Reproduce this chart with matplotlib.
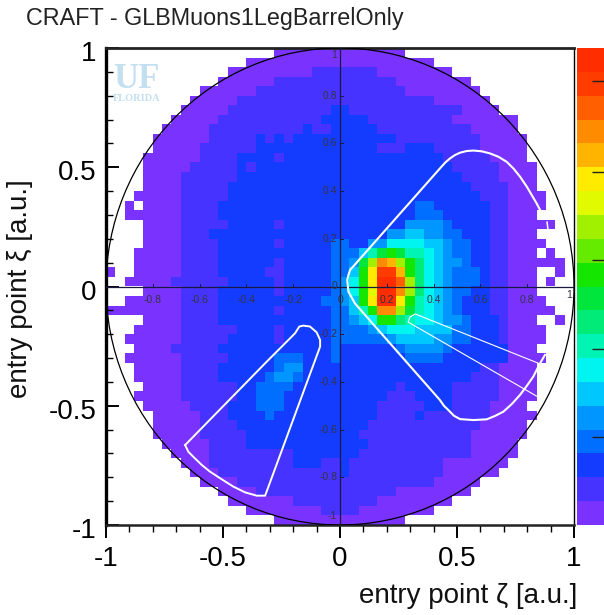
import numpy as np
import matplotlib
matplotlib.use("Agg")
import matplotlib.pyplot as plt
from matplotlib.colors import ListedColormap
from matplotlib.patches import Circle
from matplotlib.transforms import ScaledTranslation

plt.rcParams['font.family'] = ['Liberation Sans', 'DejaVu Sans']

N_BINS = 50
band_colors = ['#7a33ff', '#4633ff', '#143cff', '#006eff', '#0096ff', '#00c8ff', '#00f5f0',
               '#00f5b4', '#00eb78', '#00e63c', '#14e600', '#64eb00', '#a0f000', '#e1fa00',
               '#ffeb00', '#ffb400', '#ff8c00', '#ff5f00', '#ff3c00', '#ff2d00']

# bins of the lowest band per row (first, last); rows run from top to bottom
left0 = [18, 15, 13, 12, 10, 9, 8, 7, 6, 5, 5, 4, 4, 4, 4, 3, 2, 2, 4, 4, 4, 3, 3, 3, 2,
         4, 2, 0, 4, 3, 2, 3, 2, 3, 3, 4, 3, 4, 5, 5, 5, 6, 7, 8, 9, 10, 12, 13, 15, 18]
right0 = [31, 34, 36, 38, 39, 40, 41, 43, 43, 44, 44, 44, 45, 45, 45, 46, 46, 45, 47, 45, 46, 45, 48, 45, 45,
          45, 46, 47, 45, 46, 46, 45, 46, 45, 45, 45, 45, 44, 45, 44, 44, 43, 43, 42, 41, 39, 38, 36, 34, 31]
empty_bins = [(16, 3), (23, 1), (23, 2), (23, 46), (23, 47), (24, 46)]
extra_bins = [(21, 47), (23, 0), (23, 48), (24, 47), (28, 48)]

# second band per row
band1 = {2: (22, 28), 3: (18, 30), 4: (16, 31), 5: (14, 34), 6: (13, 37), 7: (12, 36), 8: (11, 38), 9: (11, 39),
         10: (10, 39), 11: (10, 40), 12: (9, 41), 13: (8, 41), 14: (8, 42), 15: (8, 42), 16: (8, 42), 17: (8, 42),
         18: (8, 42), 19: (8, 42), 20: (8, 42), 21: (8, 42), 22: (8, 42), 23: (8, 42), 24: (7, 42), 25: (8, 42),
         26: (8, 42), 27: (8, 42), 28: (8, 42), 29: (8, 42), 30: (8, 42), 31: (7, 42), 32: (8, 42), 33: (8, 41),
         34: (8, 41), 35: (8, 41), 36: (8, 41), 37: (9, 40), 38: (10, 40), 39: (10, 39), 40: (10, 38), 41: (11, 38),
         42: (11, 38), 43: (11, 35), 44: (12, 35), 45: (14, 34), 46: (16, 30), 47: (20, 28), 48: (23, 26)}

# third band per row: spans, then bins that stay in the second band
band2 = {6: [(24, 25)], 7: [(23, 27)], 8: [(21, 21), (24, 28)], 9: [(16, 16), (18, 18), (20, 30)],
         10: [(16, 28), (32, 34)], 11: [(14, 17), (19, 35)], 12: [(14, 14), (16, 36)], 13: [(14, 37)],
         14: [(13, 38)], 15: [(13, 39)], 16: [(12, 40)], 17: [(12, 40)], 18: [(13, 17), (19, 40)], 19: [(11, 40)],
         20: [(12, 17), (19, 40)], 21: [(12, 40)], 22: [(12, 17), (19, 40)], 23: [(12, 16), (19, 40)],
         24: [(13, 17), (19, 40)], 25: [(12, 17), (19, 40)], 26: [(12, 40)], 27: [(12, 17), (19, 40)],
         28: [(12, 41)], 29: [(14, 17), (19, 41)], 30: [(13, 17), (19, 41)], 31: [(12, 42)], 32: [(13, 42)],
         33: [(12, 39)], 34: [(12, 38)], 35: [(14, 30), (32, 36)], 36: [(14, 29), (33, 36)], 37: [(13, 28), (34, 36)],
         38: [(13, 28), (33, 33)], 39: [(14, 27)], 40: [(15, 26)], 41: [(15, 27)], 42: [(20, 26)],
         43: [(20, 22), (25, 25)], 44: [(25, 25)]}

# upper bands: first bin of the row, then the band of each bin
core = {16: (33, [3, 3]), 17: (33, [3, 3, 3]), 18: (32, [4, 4, 4, 4, 3]),
        19: (30, [4, 4, 5, 5, 4, 4, 3, 3]),
        20: (24, [3, 3, 2, 2, 4, 4, 6, 6, 6, 6, 5, 5, 4, 3, 3]),
        21: (24, [3, 3, 3, 5, 7, 9, 10, 9, 7, 7, 6, 5, 4, 3, 3]),
        22: (24, [3, 3, 4, 9, 12, 16, 15, 12, 10, 8, 6, 5, 4, 4, 3]),
        23: (24, [3, 3, 5, 10, 14, 18, 18, 15, 10, 8, 6, 5, 4, 3, 3, 3]),
        24: (24, [3, 4, 6, 10, 14, 19, 19, 17, 12, 8, 6, 5, 4, 3, 3, 3]),
        25: (24, [3, 4, 6, 10, 13, 19, 19, 16, 12, 8, 6, 5, 4, 3, 3]),
        26: (23, [3, 3, 4, 5, 10, 14, 19, 19, 14, 10, 7, 6, 5, 4, 3]),
        27: (24, [3, 3, 5, 7, 10, 16, 16, 12, 9, 7, 6, 5, 4, 3]),
        28: (24, [3, 3, 4, 5, 6, 10, 10, 8, 7, 6, 6, 5, 4, 4, 3]),
        29: (24, [3, 3, 3, 3, 4, 5, 6, 6, 6, 5, 5, 5, 5, 3, 3]),
        30: (24, [3, 3, 3, 3, 3, 3, 4, 5, 5, 5, 5, 4, 4, 3, 3]),
        31: (24, [3, 2, 2, 2, 2, 2, 2, 3, 4, 4, 4, 4, 3]),
        32: (18, [3, 3, 3, 2, 2, 2, 3, 2, 2, 2, 2, 2, 2, 2, 3, 3, 3, 3]),
        33: (18, [3, 4, 4]), 34: (17, [3, 4, 4, 3]), 35: (16, [3, 3, 3, 3]),
        36: (16, [3, 3, 3]), 37: (16, [3, 3, 3]), 38: (17, [3])}

# white outlines
big_x = [0.855, 0.840, 0.819, 0.798, 0.769, 0.741, 0.712, 0.677, 0.641, 0.605, 0.570, 0.541, 0.513, 0.491,
         0.470, 0.449, 0.427, 0.043, 0.036, 0.031, 0.036, 0.064, 0.114, 0.427, 0.444, 0.463, 0.487, 0.513,
         0.570, 0.627, 0.662, 0.698, 0.734, 0.769, 0.798, 0.826, 0.855, 0.876]
big_y = [0.321, 0.349, 0.384, 0.419, 0.461, 0.495, 0.523, 0.544, 0.558, 0.567, 0.570, 0.568, 0.561, 0.551,
         0.537, 0.519, 0.495, 0.069, 0.048, 0.027, -0.022, -0.071, -0.127, -0.476, -0.500, -0.518, -0.542, -0.556,
         -0.560, -0.557, -0.543, -0.525, -0.493, -0.455, -0.417, -0.378, -0.322, -0.287]
stub_x = [0.885, 0.889]
stub_y = [0.270, 0.237]
thin_x = [0.846, 0.321, 0.299, 0.291, 0.846]
thin_y = [-0.321, -0.115, -0.128, -0.149, -0.463]
lobe_x = [-0.662, -0.313, -0.192, -0.174, -0.157, -0.128, -0.100, -0.085, -0.085, -0.320, -0.356, -0.406,
          -0.456, -0.506, -0.556, -0.591, -0.627, -0.648, -0.662]
lobe_y = [-0.665, -0.315, -0.196, -0.168, -0.164, -0.168, -0.192, -0.224, -0.252, -0.877, -0.877, -0.863,
          -0.839, -0.808, -0.776, -0.748, -0.714, -0.693, -0.665]

big_ticks = [-1, -0.5, 0, 0.5, 1]
big_labels = ['-1', '-0.5', '0', '0.5', '1']
minor_ticks = [-0.9, -0.8, -0.7, -0.6, -0.4, -0.3, -0.2, -0.1, 0.1, 0.2, 0.3, 0.4, 0.6, 0.7, 0.8, 0.9]
inner_ticks = [-0.8, -0.6, -0.4, -0.2, 0.2, 0.4, 0.6, 0.8]
inner_labels = ['-0.8', '-0.6', '-0.4', '-0.2', '0.2', '0.4', '0.6', '0.8']
bar_ticks = [3.2, 6.9, 10.6, 14.3, 18.1]

grid = np.full((N_BINS, N_BINS), np.nan)
for r in range(N_BINS):
    grid[r, left0[r]:right0[r] + 1] = 0
for r, c in empty_bins:
    grid[r, c] = np.nan
for r, c in extra_bins:
    grid[r, c] = 0
for r, (a, b) in band1.items():
    grid[r, a:b + 1] = 1
for r, spans in band2.items():
    for a, b in spans:
        grid[r, a:b + 1] = 2
for r, (start, vals) in core.items():
    for k, v in enumerate(vals):
        grid[r, start + k] = v

W, H = 604, 615
fig = plt.figure(figsize=(W / 100, H / 100), dpi=100)
L, R, T, B = 106, 574, 48, 525
ax = fig.add_axes([L / W, 1 - B / H, (R - L) / W, (B - T) / H])
cmap = ListedColormap(band_colors)
cmap.set_bad('white')
ax.imshow(grid, cmap=cmap, vmin=-0.5, vmax=19.5, extent=(-1, 1, -1, 1), origin='upper',
          interpolation='nearest', aspect='auto', zorder=1)

ax.add_patch(Circle((0, 0), 1, fill=False, ec='black', lw=0.9, zorder=3, clip_on=True))
ax.axhline(0, color='#1a1a40', lw=0.9, zorder=3)
ax.axvline(0, color='#1a1a40', lw=0.9, zorder=3)

for xs, ys, lw in [(big_x, big_y, 1.5), (lobe_x, lobe_y, 1.4), (thin_x, thin_y, 0.8), (stub_x, stub_y, 1.1)]:
    ax.plot(xs, ys, color='white', lw=lw, zorder=4, solid_joinstyle='round')

# small scale along the inner axes
for t, s in zip(inner_ticks, inner_labels):
    ax.text(t, -0.055, s, fontsize=7.5, color='#333344', ha='center', va='center', zorder=5)
    ax.text(-0.012, t, s, fontsize=7.5, color='#333344', ha='right', va='center', zorder=5)
    ax.plot([t, t], [0, 0.012], color='#1a1a40', lw=0.7, zorder=3)
    ax.plot([0, 0.012], [t, t], color='#1a1a40', lw=0.7, zorder=3)
ax.text(0.0, -0.055, '0', fontsize=7.5, color='#333344', ha='center', va='center', zorder=5)
ax.text(-0.012, 0.004, '0', fontsize=7.5, color='#333344', ha='right', va='center', zorder=5)
ax.text(-0.012, 0.992, '1', fontsize=7.5, color='#333344', ha='right', va='top', zorder=5)
ax.text(-0.012, -0.985, '-1', fontsize=7.5, color='#333344', ha='right', va='bottom', zorder=5)
ax.text(0.992, -0.035, '1', fontsize=7.5, color='#333344', ha='right', va='center', zorder=5)

# logo
ax.text(-0.97, 0.87, 'UF', fontsize=25, family='Liberation Serif', weight='bold', color='#c4e0f0',
        ha='left', va='center', zorder=2)
ax.text(-0.97, 0.788, 'FLORIDA', fontsize=7.5, family='Liberation Serif', weight='bold', color='#c4e0f0',
        ha='left', va='center', zorder=2)

ax.set_xlim(-1, 1)
ax.set_ylim(-1, 1)
ax.set_xticks(big_ticks)
ax.set_xticklabels(big_labels)
ax.set_yticks(big_ticks)
ax.set_yticklabels(big_labels)
ax.set_xticks(minor_ticks, minor=True)
ax.set_yticks(minor_ticks, minor=True)
ax.tick_params(axis='x', which='major', direction='out', length=9, width=1.4, pad=6, labelsize=20)
ax.tick_params(axis='x', which='minor', direction='out', length=5, width=1.0)
ax.tick_params(axis='y', which='major', direction='in', length=9, width=1.4, pad=7, labelsize=20)
ax.tick_params(axis='y', which='minor', direction='in', length=5, width=1.0)
down = ScaledTranslation(0, -3 / 100, fig.dpi_scale_trans)
for lab in ax.get_yticklabels():
    lab.set_transform(lab.get_transform() + down)
ax.spines['left'].set_linewidth(2.4)
ax.spines['top'].set_linewidth(2.0)
ax.spines['bottom'].set_linewidth(1.8)
ax.spines['right'].set_linewidth(1.0)
for s in ('top', 'bottom'):
    ax.spines[s].set_color('#222222')

fig.text(26 / W, 1 - 18 / H, 'CRAFT - GLBMuons1LegBarrelOnly', fontsize=16.8, color='#222222',
         ha='left', va='center')
fig.text(577 / W, 1 - 596 / H, 'entry point ζ [a.u.]', fontsize=20, color='#111111', ha='right', va='center')
fig.text(20 / W, 1 - 289 / H, 'entry point ξ [a.u.]', fontsize=20, color='#111111', ha='center', va='center',
         rotation=90)

cax = fig.add_axes([577 / W, 1 - 525 / H, 27 / W, (525 - 48) / H])
cax.imshow(np.arange(20).reshape(-1, 1), cmap=cmap, vmin=-0.5, vmax=19.5, origin='lower',
           extent=(0, 1, -0.5, 19.5), aspect='auto', interpolation='nearest')
cax.set_xticks([])
cax.yaxis.tick_right()
cax.set_yticks(bar_ticks)
cax.set_yticklabels([])
cax.tick_params(axis='y', direction='in', length=9, width=1.0, color='#222222')
for s in cax.spines.values():
    s.set_visible(False)

fig.savefig('out.png', dpi=100)
